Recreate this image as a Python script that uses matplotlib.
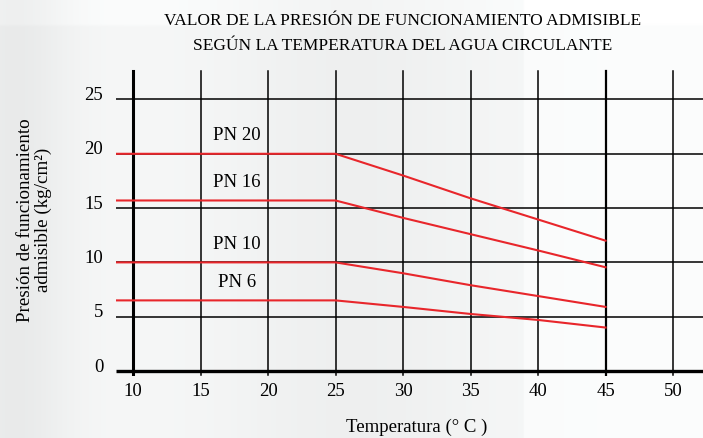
import numpy as np
import matplotlib.pyplot as plt

plt.rcParams['font.family'] = ['Liberation Serif', 'DejaVu Serif']

# temperatures (°C) where the curves are read
temp = [10, 25, 30, 35, 40, 45]
pn20 = [20.0, 20.0, 18.0, 15.9, 13.95, 12.0]
pn16 = [15.7, 15.7, 14.1, 12.6, 11.1, 9.55]
pn10 = [10.0, 10.0, 9.0, 7.9, 6.9, 5.9]
pn6 = [6.5, 6.5, 5.9, 5.25, 4.7, 4.0]

series = {"PN 20": pn20, "PN 16": pn16, "PN 10": pn10, "PN 6": pn6}

x_ticks = [10, 15, 20, 25, 30, 35, 40, 45, 50]
y_ticks = [0, 5, 10, 15, 20, 25]

fig = plt.figure(figsize=(7.03, 4.39), dpi=100)

# soft grey background
bg = fig.add_axes([0, 0, 1, 1], zorder=-10)
xs = np.linspace(0, 1, 400)
row = 0.965 - 0.05 * np.exp(-((xs - 0.02) / 0.08) ** 2)
row -= 0.03 * np.exp(-((xs - 0.5) / 0.18) ** 2)
row += 0.02 * (xs > 0.745)
img = np.tile(row, (100, 1))
img[:6, :] = np.minimum(img[:6, :] + 0.02, 1)
bg.imshow(np.dstack([img, img + 0.005, img + 0.005]).clip(0, 1),
          aspect='auto', extent=[0, 1, 0, 1])
bg.axis("off")

ax = fig.add_axes([0.165, 0.1403, 0.835, 0.705])
ax.set_xlim(8.74, 52.22)
ax.set_ylim(-0.5, 28)
ax.patch.set_alpha(0)
for s in ax.spines.values():
    s.set_visible(False)
ax.set_xticks([])
ax.set_yticks([])

# grid
for x in x_ticks:
    lw = 2.2 if x == 10 else (1.6 if x == 45 else 1.1)
    ax.plot([x, x], [-0.4, 27.6], color='black', lw=lw, zorder=1)
for y in y_ticks:
    lw = 2.4 if y == 0 else 1.1
    ax.plot([8.74, 52.22], [y, y], color='black', lw=lw, zorder=1,
            solid_capstyle='butt')

# curves
red = '#e8262b'
for name, vals in series.items():
    ax.plot([8.74] + temp[1:], [vals[0]] + vals[1:], color=red, lw=1.5, zorder=3)
    ax.text(17.7, vals[0] + 1.0, name, ha='center', va='bottom', fontsize=13.5)

# tick labels
for y in y_ticks:
    ax.text(7.8, y + 0.45, str(y), ha='right', va='center', fontsize=13.5)
for x in x_ticks:
    ax.text(x, -1.8, str(x), ha='center', va='center', fontsize=13.5)

fig.text(0.573, 0.952, "VALOR DE LA PRESIÓN DE FUNCIONAMIENTO ADMISIBLE",
         ha='center', va='center', fontsize=12.5)
fig.text(0.573, 0.895, "SEGÚN LA TEMPERATURA DEL AGUA CIRCULANTE",
         ha='center', va='center', fontsize=12.5)
fig.text(0.593, 0.006, "Temperatura (° C )", ha='center', va='bottom', fontsize=13.5)
fig.text(0.049, 0.499, "Presión de funcionamiento\nadmisible (kg/cm²)",
         ha='center', va='center', rotation=90, fontsize=13.7, linespacing=1.0)

fig.savefig("out.png", dpi=100)
